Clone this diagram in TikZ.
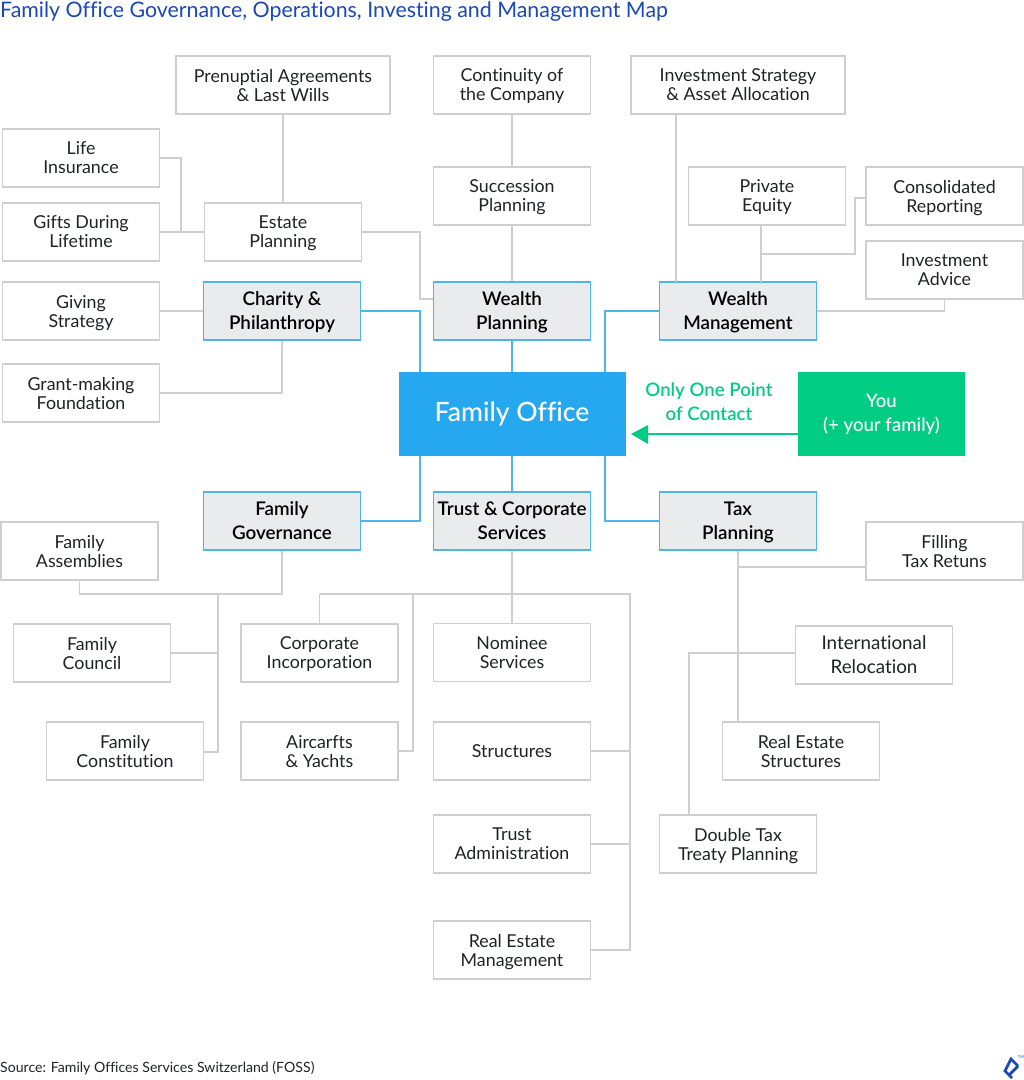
\documentclass[tikz,border=0pt]{standalone}
\usepackage{fontspec}
\setmainfont{Lato}[Ligatures=NoCommon]
\newfontfamily\medfont{Lato Medium}[Ligatures=NoCommon]
\newfontfamily\semifont{Lato Semibold}[Ligatures=NoCommon]
\definecolor{leafline}{HTML}{CDCFD1}
\definecolor{branchfill}{HTML}{E9EBED}
\definecolor{branchline}{HTML}{4FB4E8}
\definecolor{officeblue}{HTML}{25A8F0}
\definecolor{youcolor}{HTML}{00CC83}
\definecolor{titleblue}{HTML}{1A49B4}
\definecolor{inktext}{HTML}{1F2326}
\begin{document}
\begin{tikzpicture}[x=1pt,y=-1pt,
		leaf/.style={rectangle, draw=leafline, line width=1.2pt, fill=white, text=inktext, minimum width=157pt, minimum height=58pt, inner sep=0pt, align=center, text depth=0pt, font=\fontsize{17.8}{19}\selectfont},
		wideleaf/.style={leaf, minimum width=214pt},
		branch/.style={rectangle, draw=branchline, line width=1.3pt, fill=branchfill, text=black, minimum width=157pt, minimum height=58pt, inner sep=0pt, align=center, text depth=0pt, font=\fontsize{18.8}{24}\selectfont\semifont},
		grayline/.style={draw=leafline, line width=1.2pt},
		blueline/.style={draw=branchline, line width=1.3pt}]
		    \useasboundingbox (0,0) rectangle (1024,1080);
		    \node[anchor=west, inner sep=0pt, text=titleblue, font=\fontsize{21.36}{22}\selectfont] (title) at (0,12) {Family Office Governance, Operations, Investing and Management Map};
		    \node[anchor=west, inner sep=0pt, text=inktext, font=\fontsize{14.1}{17}\selectfont] (source) at (0,1068) {Source: Family Offices Services Switzerland (FOSS)};

		    % top half
		    \node[wideleaf] (prenup) at (283,85) {Prenuptial Agreements\\\& Last Wills};
		    \node[leaf] (continuity) at (512,85) {Continuity of\\the Company};
		    \node[wideleaf] (strategy) at (738,85) {Investment Strategy\\\& Asset Allocation};
		    \node[leaf] (life) at (81,158) {Life\\Insurance};
		    \node[leaf] (gifts) at (81,232) {Gifts During\\Lifetime};
		    \node[leaf] (estate) at (283,232) {Estate\\Planning};
		    \node[leaf] (succession) at (512,196) {Succession\\Planning};
		    \node[leaf] (equity) at (767,196) {Private\\Equity};
		    \node[leaf] (reporting) at (944.5,196) {Consolidated\\Reporting};
		    \node[leaf] (advice) at (944.5,270) {Investment\\Advice};
		    \node[leaf] (giving) at (81,311) {Giving\\Strategy};
		    \node[leaf] (grant) at (81,393) {Grant-making\\Foundation};
		    \node[branch] (charity) at (282,311) {Charity \&\\Philanthropy};
		    \node[branch] (wplanning) at (512,311) {Wealth\\Planning};
		    \node[branch] (wmanage) at (738,311) {Wealth\\Management};

		    % centre
		    \node[rectangle, fill=officeblue, text=white, minimum width=227pt, minimum height=84pt, inner sep=0pt, font=\fontsize{26.6}{30}\selectfont\medfont] (office) at (512,414) {Family Office};
		    \node[rectangle, fill=youcolor, text=white, minimum width=167pt, minimum height=84pt, inner sep=0pt, align=center, font=\fontsize{18.6}{24}\selectfont\medfont] (you) at (881.5,414) {You\\(+ your family)};
		    \node[text=youcolor, align=center, inner sep=0pt, font=\fontsize{18.6}{24}\selectfont\semifont] (contact) at (709,402) {Only One Point\\of Contact};

		    % bottom half
		    \node[branch] (fgov) at (282,521) {Family\\Governance};
		    \node[branch] (trust) at (512,521) {Trust \& Corporate\\Services};
		    \node[branch] (tax) at (738,521) {Tax\\Planning};
		    \node[leaf] (assemblies) at (79.5,551) {Family\\Assemblies};
		    \node[leaf] (filling) at (944.5,551) {Filling\\Tax Retuns};
		    \node[leaf] (council) at (92,653) {Family\\Council};
		    \node[leaf] (corp) at (319.5,653) {Corporate\\Incorporation};
		    \node[leaf] (nominee) at (512,652.5) {Nominee\\Services};
		    \node[leaf, font=\fontsize{18.8}{24}\selectfont] (reloc) at (874,655) {International\\Relocation};
		    \node[leaf] (constitution) at (125,751) {Family\\Constitution};
		    \node[leaf] (yachts) at (319.5,751) {Aircarfts\\\& Yachts};
		    \node[leaf] (structures) at (512,751) {Structures};
		    \node[leaf] (restruct) at (801,751) {Real Estate\\Structures};
		    \node[leaf] (tadmin) at (512,844) {Trust\\Administration};
		    \node[leaf] (dtax) at (738,844) {Double Tax\\Treaty Planning};
		    \node[leaf] (remanage) at (512,950) {Real Estate\\Management};

		    % turning points of the lines
		    \coordinate (lifebus) at (181,158);
		    \coordinate (plantop) at (420,299);
		    \coordinate (strategyend) at (676,282);
		    \coordinate (equityend) at (761,282);
		    \coordinate (reportbus) at (855,198);
		    \coordinate (reportend) at (761,254);
		    \coordinate (famcorner) at (218,594);
		    \coordinate (constend) at (218,752);
		    \coordinate (trustbus) at (630,594);
		    \coordinate (yachtbus) at (413,594);
		    \coordinate (taxbus) at (738,567);
		    \coordinate (relocbus) at (689,653);

		    % straight lines
		    \foreach \x/\y in {prenup/estate,continuity/succession,succession/wplanning,gifts/estate,giving/charity,trust/nominee} {
		       \draw[grayline] (\x) -- (\y);
		    }
		    \foreach \x/\y in {wplanning/office,trust/office} {
		       \draw[blueline] (\x) -- (\y);
		    }

		    % upper gray lines
		    \draw[grayline] (life.east) -- (lifebus) -- (lifebus |- gifts);
		    \draw[grayline] (estate.east) -| (plantop) -- (plantop -| wplanning.west);
		    \draw[grayline] (strategyend |- strategy.south) -- (strategyend);
		    \draw[grayline] (equityend |- equity.south) -- (equityend);
		    \draw[grayline] (reporting.west |- reportbus) -- (reportbus) |- (reportend);
		    \draw[grayline] (wmanage.east) -| (advice.south);
		    \draw[grayline] (grant.east) -| (charity.south);

		    % blue lines
		    \draw[blueline] (charity.east) -| (plantop |- office.north);
		    \draw[blueline] (wmanage.west) -| (605,372);
		    \draw[blueline] (fgov.east) -| (plantop |- office.south);
		    \draw[blueline] (tax.west) -| (605,456);

		    % lower gray lines
		    \draw[grayline] (fgov.south) |- (famcorner) -| (assemblies.south);
		    \draw[grayline] (famcorner) -- (constend) -- (constend -| constitution.east);
		    \draw[grayline] (council.east) -- (famcorner |- council);
		    \draw[grayline] (corp.north) |- (trustbus) |- (remanage.east);
		    \draw[grayline] (yachts.east) -| (yachtbus);
		    \draw[grayline] (structures.east) -- (trustbus |- structures);
		    \draw[grayline] (tadmin.east) -- (trustbus |- tadmin);
		    \draw[grayline] (tax.south) -- (tax.south |- restruct.north);
		    \draw[grayline] (filling.west |- taxbus) -- (taxbus);
		    \draw[grayline] (reloc.west |- relocbus) -- (relocbus) -- (relocbus |- dtax.north);

		    % arrow
		    \coordinate (arrowend) at (631,434);
		    \draw[draw=youcolor, line width=1.3pt] (you.west |- arrowend) -- (648,434);
		    \fill[youcolor] (arrowend) -- (648,425) -- (648,444) -- cycle;

		    % logo
		    \draw[draw=titleblue, line width=2.8pt, line join=miter] (1018,1066) -- (1011,1059) -- (1005,1071) -- (1012,1078);
		    \draw[draw=titleblue, line width=2.8pt] (1018,1066) -- (1009,1075);
		    \node[text=titleblue, inner sep=0pt, font=\fontsize{4}{4}\selectfont] (tm) at (1021,1057) {TM};
		\end{tikzpicture}
\end{document}
